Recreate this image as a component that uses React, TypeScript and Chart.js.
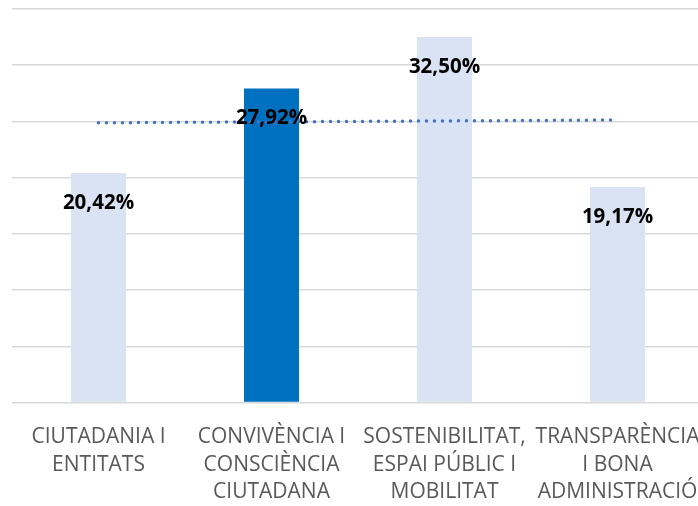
import React, { useEffect, useRef } from "react";
import { Chart, registerables } from "chart.js";

Chart.register(...registerables);

const categories: string[][] = [
  ["CIUTADANIA I", "ENTITATS"],
  ["CONVIVÈNCIA I", "CONSCIÈNCIA", "CIUTADANA"],
  ["SOSTENIBILITAT,", "ESPAI PÚBLIC I", "MOBILITAT"],
  ["TRANSPARÈNCIA", "I BONA", "ADMINISTRACIÓ"],
];
const values: number[] = [20.42, 27.92, 32.5, 19.17];
const labels: string[] = ["20,42%", "27,92%", "32,50%", "19,17%"];
const barColors: string[] = ["#dae3f3", "#0070c0", "#dae3f3", "#dae3f3"];

// linear trendline (least squares) derived from the values
function trend(vals: number[]): number[] {
  const n = vals.length;
  const xs = vals.map((_, i) => i + 1);
  const mx = xs.reduce((a, b) => a + b, 0) / n;
  const my = vals.reduce((a, b) => a + b, 0) / n;
  let num = 0, den = 0;
  for (let i = 0; i < n; i++) {
    num += (xs[i] - mx) * (vals[i] - my);
    den += (xs[i] - mx) * (xs[i] - mx);
  }
  const slope = num / den;
  return xs.map((x) => my + slope * (x - mx));
}

const labelPlugin = {
  id: "barLabels",
  afterDatasetsDraw(chart: any) {
    const meta = chart.getDatasetMeta(1);
    const ctx = chart.ctx;
    ctx.save();
    ctx.font = "bold 20.5px 'Open Sans'";
    ctx.fillStyle = "#000000";
    ctx.textAlign = "center";
    ctx.textBaseline = "middle";
    meta.data.forEach((el: any, i: number) => {
      ctx.fillText(labels[i], el.x, el.y + 30);
    });
    ctx.restore();
  },
};

export default function App() {
  const ref = useRef<HTMLCanvasElement>(null);
  useEffect(() => {
    if (!ref.current) return;
    const chart = new Chart(ref.current, {
      type: "bar",
      data: {
        labels: categories as any,
        datasets: [
          {
            type: "line" as any,
            data: trend(values),
            borderColor: "#4472c4",
            borderWidth: 3.5,
            borderDash: [0, 8],
            borderCapStyle: "round",
            pointRadius: 0,
            fill: false,
            order: 0,
          } as any,
          {
            type: "bar",
            data: values,
            backgroundColor: barColors,
            barPercentage: 0.318,
            categoryPercentage: 1,
            order: 1,
          },
        ],
      },
      options: {
        responsive: false,
        animation: false,
        layout: { padding: { left: 12, right: 0, top: 9, bottom: 0 } },
        plugins: { legend: { display: false }, tooltip: { enabled: false } },
        scales: {
          x: {
            grid: { display: false, drawTicks: false },
            border: { display: false },
            ticks: {
              color: "#595959",
              font: { family: "'Open Sans'", size: 21, lineHeight: "27.5px" },
              padding: 21,
              maxRotation: 0,
              minRotation: 0,
              autoSkip: false,
            },
            afterFit: (s: any) => {
              s.paddingLeft = 0;
              s.paddingRight = 0;
            },
          },
          y: {
            min: 0,
            max: 35,
            ticks: { display: false, stepSize: 5 },
            grid: { color: "#d9d9d9", lineWidth: 1.5, drawTicks: false },
            border: { display: false },
          },
        },
      },
      plugins: [labelPlugin],
    });
    return () => chart.destroy();
  }, []);
  return (
    <div style={{ position: "fixed", left: 0, top: 0, width: 698, height: 506, overflow: "hidden", background: "#fff" }}>
      <canvas ref={ref} width={704} height={527} style={{ display: "block", width: 704, height: 527 }} />
    </div>
  );
}
